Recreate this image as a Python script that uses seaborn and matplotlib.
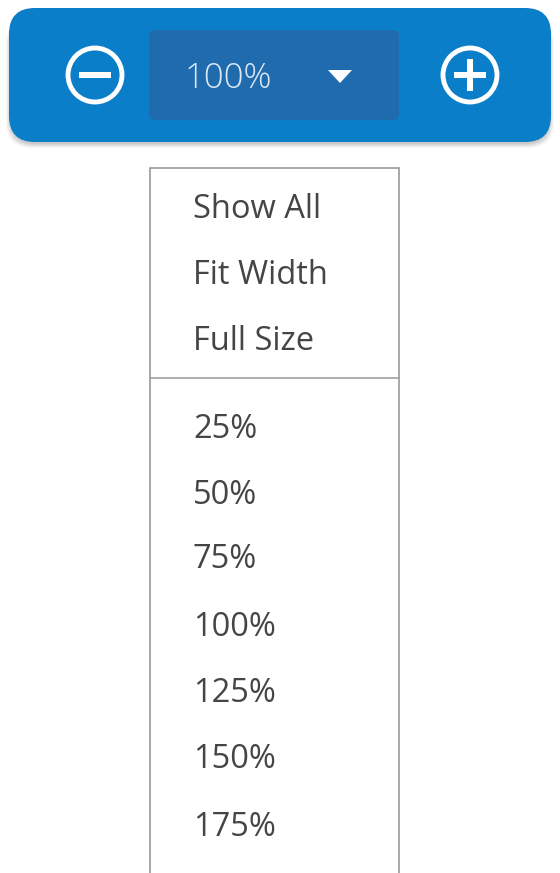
import matplotlib
matplotlib.use("Agg")
import matplotlib.pyplot as plt
import seaborn as sns
from matplotlib.patches import FancyBboxPatch, Circle, Polygon, Rectangle

sns.set_theme(style="white")
plt.rcParams['font.family'] = ['Open Sans', 'DejaVu Sans']

zoom_label = "100%"
menu_options = ["Show All", "Fit Width", "Full Size"]
zoom_levels = ["25%", "50%", "75%", "100%", "125%", "150%", "175%"]

W, H = 560, 873
fig = plt.figure(figsize=(W / 100, H / 100), dpi=100)
ax = fig.add_axes([0, 0, 1, 1])
ax.set_xlim(0, W)
ax.set_ylim(H, 0)
ax.axis("off")

# toolbar shadow
for i, a in enumerate([0.05, 0.05, 0.05, 0.04, 0.03]):
    ax.add_patch(FancyBboxPatch((10 - i, 14 + i), 540 + 2 * i, 130, boxstyle="round,pad=0,rounding_size=26",
                                fc="black", ec="none", alpha=a, zorder=1))
# toolbar
ax.add_patch(FancyBboxPatch((9, 8), 542, 134, boxstyle="round,pad=0,rounding_size=26",
                            fc="#0A7EC8", ec="none", zorder=2))
# inner select box
ax.add_patch(FancyBboxPatch((149, 30), 250, 90, boxstyle="round,pad=0,rounding_size=6",
                            fc="#1F6BAD", ec="none", zorder=3))
ax.text(185, 79, zoom_label, color="#DCE9F5", fontsize=25, va="center", ha="left",
        fontweight="light", zorder=4)
ax.add_patch(Polygon([[328, 70], [352, 70], [340, 83]], closed=True, fc="white", ec="none", zorder=4))

# minus and plus icons
for cx in (95, 470):
    ax.add_patch(Circle((cx, 75), 27, fc="none", ec="white", lw=3.5, zorder=4))
ax.add_patch(Rectangle((79, 72), 32, 6, fc="white", ec="none", zorder=4))
ax.add_patch(Rectangle((454, 72), 32, 6, fc="white", ec="none", zorder=4))
ax.add_patch(Rectangle((467, 59), 6, 32, fc="white", ec="none", zorder=4))

# dropdown menu
ax.add_patch(Rectangle((150, 168), 249, 720, fc="white", ec="#9A9A9A", lw=1.2, zorder=2))
ax.plot([150, 399], [378, 378], color="#A0A0A0", lw=1.2, zorder=3)

ys_top = [209, 275, 342]
ys_bot = [429, 495, 560, 627, 694, 760, 827]
for lab, y in zip(menu_options, ys_top):
    ax.text(193, y, lab, color="#454545", fontsize=23.5, va="center", ha="left", zorder=4)
for lab, y in zip(zoom_levels, ys_bot):
    ax.text(193, y, lab, color="#454545", fontsize=23.5, va="center", ha="left", zorder=4)

fig.savefig("out.png", dpi=100, facecolor="white")
